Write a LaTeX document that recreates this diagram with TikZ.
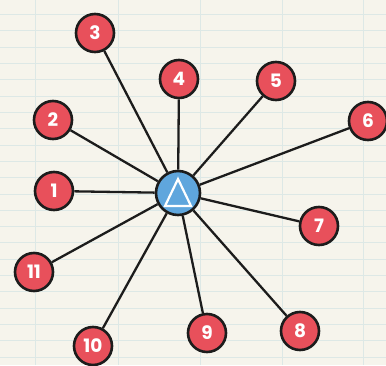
\documentclass[tikz,border=0pt]{standalone}
\usepackage{fontspec}
\newfontfamily\numfont{Poppins}[BoldFont={* Bold}]
\definecolor{paper}{HTML}{F6F4EC}
\definecolor{gridc}{HTML}{DDE8E6}
\definecolor{nodered}{HTML}{E8505B}
\definecolor{nodeblue}{HTML}{5FA6DD}
\definecolor{inkc}{HTML}{1C1C1C}
\tikzset{
  leaf/.style={circle, fill=nodered, draw=inkc, line width=2.6pt, minimum size=38pt, inner sep=0pt,
    text=white, font=\numfont\bfseries\fontsize{18.5}{18.5}\selectfont},
  hub/.style={circle, fill=nodeblue, draw=inkc, line width=2.6pt, minimum size=44pt, inner sep=0pt},
  spoke/.style={draw=inkc, line width=2.3pt},
  gridline/.style={draw=gridc, line width=0.8pt}
}
\begin{document}
\begin{tikzpicture}[x=1pt,y=1pt]
\fill[paper] (0,0) rectangle (386,365);
\useasboundingbox (0,0) rectangle (386,365);
\foreach \k in {0,...,21}
  \draw[gridline] (0,{365-14.6-16.3*\k}) -- (386,{365-14.6-16.3*\k});
\foreach \xx in {35,118,200,282,363}
  \draw[gridline] (\xx,0) -- (\xx,365);
\node[hub] (c) at (178,172) {};
\draw[white, line width=2.2pt, line join=miter] (178,186) -- (191,159) -- (165,159) -- cycle;
\node[leaf] (n1) at (54,174) {1};
\node[leaf] (n2) at (53,245) {2};
\node[leaf] (n3) at (95,332) {3};
\node[leaf] (n4) at (179,286) {4};
\node[leaf] (n5) at (276,284) {5};
\node[leaf] (n6) at (368,244) {6};
\node[leaf] (n7) at (319,139) {7};
\node[leaf] (n8) at (300,34) {8};
\node[leaf] (n9) at (207,32) {9};
\node[leaf] (n10) at (93,19) {10};
\node[leaf] (n11) at (34,93) {11};
\foreach \n in {n1,n2,n3,n4,n5,n6,n7,n8,n9,n10,n11}
  \draw[spoke] (c) -- (\n);
\end{tikzpicture}
\end{document}
